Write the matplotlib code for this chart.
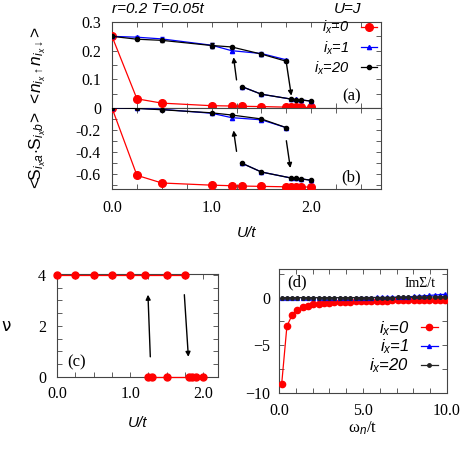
import matplotlib
matplotlib.use("Agg")
import matplotlib.pyplot as plt
from matplotlib.ticker import MultipleLocator, FormatStrFormatter

plt.rcParams['mathtext.fontset'] = 'custom'
plt.rcParams['mathtext.rm'] = 'Liberation Sans'
plt.rcParams['mathtext.it'] = 'Liberation Sans:italic'
plt.rcParams['font.family'] = ['Liberation Serif', 'DejaVu Serif']

# ---- data, panels (a)/(b) ----
u_red = [0, 0.25, 0.5, 1.0, 1.2, 1.3, 1.5, 1.75, 1.8, 1.85, 1.9, 2.0]
docc_red = [0.25, 0.032, 0.017, 0.008, 0.007, 0.006, 0.005, 0.003, 0.003, 0.003, 0.002, 0.002]
ss_red = [0, -0.615, -0.685, -0.705, -0.71, -0.713, -0.716, -0.72, -0.72, -0.721, -0.722, -0.722]

u_up = [0, 0.25, 0.5, 1.0, 1.2, 1.5, 1.75]
docc_blue_up = [0.25, 0.247, 0.241, 0.219, 0.2, 0.19, 0.168]
docc_black_up = [0.25, 0.24, 0.236, 0.218, 0.213, 0.188, 0.163]
docc_err = [0, 0.004, 0.005, 0.008, 0.005, 0.005, 0.004]
ss_blue_up = [0, -0.003, -0.012, -0.048, -0.088, -0.108, -0.18]
ss_black_up = [0, -0.004, -0.016, -0.044, -0.064, -0.1, -0.18]

u_low = [1.3, 1.5, 1.8, 1.85, 1.9, 2.0]
docc_blue_low = [0.075, 0.048, 0.031, 0.030, 0.028, 0.024]
docc_black_low = [0.075, 0.048, 0.031, 0.029, 0.028, 0.024]
ss_blue_low = [-0.503, -0.585, -0.64, -0.642, -0.648, -0.66]
ss_black_low = [-0.503, -0.585, -0.64, -0.642, -0.648, -0.66]

# ---- data, panel (c) ----
u_nu_up = [0, 0.25, 0.5, 0.75, 1.0, 1.2, 1.5, 1.75]
nu_up = [4, 4, 4, 4, 4, 4, 4, 4]
u_nu_low = [1.25, 1.3, 1.5, 1.8, 1.85, 1.9, 2.0]
nu_low = [0, 0, 0, 0, 0, 0, 0]

# ---- data, panel (d) ----
wn = [0.157, 0.471, 0.785, 1.100, 1.414, 1.728, 2.042, 2.356, 2.670, 2.985,
      3.299, 3.613, 3.927, 4.241, 4.555, 4.869, 5.184, 5.498, 5.812, 6.126,
      6.440, 6.754, 7.069, 7.383, 7.697, 8.011, 8.325, 8.639, 8.954, 9.268,
      9.582, 9.896]
sig_red = [-9.1, -3.0, -1.8, -1.3, -1.02, -0.84, -0.72, -0.64, -0.58, -0.53,
           -0.49, -0.46, -0.43, -0.41, -0.39, -0.37, -0.35, -0.34, -0.33, -0.32,
           -0.31, -0.30, -0.29, -0.28, -0.28, -0.27, -0.27, -0.26, -0.26, -0.25,
           -0.25, -0.24]
sig_blue = [0.0, 0.0, 0.0, 0.0, 0.0, 0.0, 0.0, 0.0, 0.0, 0.0,
            0.0, 0.0, 0.0, 0.0, 0.0, 0.01, 0.01, 0.01, 0.02, 0.02,
            0.03, 0.04, 0.05, 0.07, 0.09, 0.12, 0.15, 0.19, 0.23, 0.27,
            0.31, 0.35]
sig_black = [0.0, 0.0, 0.0, 0.0, 0.0, 0.0, 0.0, 0.0, 0.0, 0.0,
             0.0, 0.0, 0.0, 0.0, 0.0, 0.0, 0.0, 0.0, 0.0, 0.01,
             0.01, 0.01, 0.02, 0.02, 0.03, 0.03, 0.04, 0.05, 0.06, 0.07,
             0.08, 0.09]

RED = '#ff0000'
BLUE = '#0000ff'
SPINE = '#444444'

fig = plt.figure(figsize=(4.63, 4.5), dpi=100)
W, H = 463.0, 450.0


def box(l, r, t, b):
    return [l / W, 1 - b / H, (r - l) / W, (b - t) / H]


ax_a = fig.add_axes(box(112, 381, 22, 108))
ax_b = fig.add_axes(box(112, 381, 108, 189))
ax_c = fig.add_axes(box(57, 218, 274, 377))
ax_d = fig.add_axes(box(279, 447, 269, 393))


def style(ax, xpad, ypad):
    for s in ax.spines.values():
        s.set_color(SPINE)
        s.set_linewidth(0.8)
    ax.tick_params(which='both', direction='in', top=True, right=True,
                   length=3.5, width=0.6, color=SPINE, labelsize=11.5)
    ax.tick_params(axis='x', pad=xpad)
    ax.tick_params(axis='y', pad=ypad)


arrow = dict(arrowstyle='-|>', color='black', lw=1.0, mutation_scale=7,
             shrinkA=0, shrinkB=0)
leg_font = {'family': 'Liberation Sans', 'style': 'italic'}

# (a) double occupancy
ax = ax_a
ax.plot(u_red, docc_red, '-o', color=RED, lw=0.9, ms=5.5, label=r'$i_x$=0', zorder=3)
ax.errorbar(u_up, docc_blue_up, yerr=docc_err, fmt='-^', color=BLUE, lw=0.9, ms=3,
            capsize=1.5, elinewidth=0.7, zorder=4)
ax.plot(u_low, docc_blue_low, '-^', color=BLUE, lw=0.9, ms=3, label=r'$i_x$=1', zorder=4)
ax.errorbar(u_up, docc_black_up, yerr=docc_err, fmt='-o', color='black', lw=0.9, ms=3,
            capsize=1.5, elinewidth=0.7, zorder=5)
ax.plot(u_low, docc_black_low, '-o', color='black', lw=0.9, ms=3, label=r'$i_x$=20', zorder=5)
ax.annotate('', xy=(1.22, 0.177), xytext=(1.25, 0.098), arrowprops=arrow)
ax.annotate('', xy=(1.80, 0.043), xytext=(1.75, 0.158), arrowprops=arrow)
ax.set_xlim(0, 2.7)
ax.set_ylim(0, 0.3)
ax.xaxis.set_major_locator(MultipleLocator(1.0))
ax.xaxis.set_minor_locator(MultipleLocator(0.25))
ax.yaxis.set_minor_locator(MultipleLocator(0.05))
ax.set_yticks([0, 0.1, 0.2, 0.3], ['0', '0.1', '0.2', '0.3'])
style(ax, 8, 8)
ax.tick_params(labelbottom=False)
ax.text(0.89, 0.14, '(a)', transform=ax.transAxes, fontsize=12, ha='center', va='center')
ax.legend(loc='center right', bbox_to_anchor=(0.995, 0.70), frameon=False, markerfirst=False,
          handlelength=1.1, handletextpad=0.8, labelspacing=0.2, borderaxespad=0,
          borderpad=0.2, prop=dict(leg_font, size=10.5))

# (b) spin correlation
ax = ax_b
ax.plot(u_red, ss_red, '-o', color=RED, lw=0.9, ms=5.5, zorder=3)
ax.plot(u_up, ss_blue_up, '-^', color=BLUE, lw=0.9, ms=3, zorder=4)
ax.plot(u_low, ss_blue_low, '-^', color=BLUE, lw=0.9, ms=3, zorder=4)
ax.plot(u_up, ss_black_up, '-o', color='black', lw=0.9, ms=3, zorder=5)
ax.plot(u_low, ss_black_low, '-o', color='black', lw=0.9, ms=3, zorder=5)
ax.annotate('', xy=(1.22, -0.205), xytext=(1.25, -0.396), arrowprops=arrow)
ax.annotate('', xy=(1.79, -0.548), xytext=(1.75, -0.299), arrowprops=arrow)
ax.set_xlim(0, 2.7)
ax.set_ylim(-0.74, 0)
ax.xaxis.set_major_locator(MultipleLocator(1.0))
ax.xaxis.set_minor_locator(MultipleLocator(0.25))
ax.yaxis.set_minor_locator(MultipleLocator(0.1))
ax.set_yticks([-0.6, -0.4, -0.2], ['-0.6', '-0.4', '-0.2'])
ax.xaxis.set_major_formatter(FormatStrFormatter('%.1f'))
style(ax, 8, 8)
ax.text(0.89, 0.14, '(b)', transform=ax.transAxes, fontsize=12, ha='center', va='center')
ax.set_xlabel('U/t', family='Liberation Sans', style='italic', fontsize=11, labelpad=7)

fig.text(38 / W, 1 - 108 / H,
         r'<S$_{i_x a}$$\cdot$S$_{i_x b}$>  <$n_{i_x\uparrow}n_{i_x\downarrow}$>',
         rotation=90, ha='center', va='center', family='Liberation Sans', fontsize=12.5)
fig.text(112 / W, 1 - 9 / H, 'r=0.2 T=0.05t', family='Liberation Sans', style='italic',
         fontsize=11, ha='left', va='center')
fig.text(348 / W, 1 - 9 / H, 'U=J', family='Liberation Sans', style='italic',
         fontsize=11, ha='center', va='center')

# (c) nu
ax = ax_c
ax.plot(u_nu_up, nu_up, '-o', color=RED, lw=0.9, ms=5, clip_on=False, zorder=3)
ax.plot(u_nu_low, nu_low, '-o', color=RED, lw=0.9, ms=5, clip_on=False, zorder=3)
ax.annotate('', xy=(1.243, 3.22), xytext=(1.275, 0.79), arrowprops=arrow)
ax.annotate('', xy=(1.795, 0.79), xytext=(1.74, 3.22), arrowprops=arrow)
ax.set_xlim(0, 2.2)
ax.set_ylim(0, 4.03)
ax.xaxis.set_major_locator(MultipleLocator(1.0))
ax.xaxis.set_minor_locator(MultipleLocator(0.25))
ax.set_yticks([0, 2, 4])
ax.yaxis.set_minor_locator(MultipleLocator(0.5))
ax.xaxis.set_major_formatter(FormatStrFormatter('%.1f'))
style(ax, 6.5, 8)
ax.text(0.12, 0.14, '(c)', transform=ax.transAxes, fontsize=12, ha='center', va='center')
ax.set_xlabel('U/t', family='Liberation Sans', style='italic', fontsize=11, labelpad=10)
fig.text(6 / W, 1 - 326 / H, 'ν', family='DejaVu Sans', fontsize=12, ha='center', va='center')

# (d) self-energy
ax = ax_d
ax.plot(wn, sig_red, '-o', color=RED, lw=0.9, ms=4.5, label=r'$i_x$=0', zorder=3)
ax.plot(wn, sig_blue, '-^', color=BLUE, lw=0.9, ms=2.8, label=r'$i_x$=1', zorder=4)
ax.plot(wn, sig_black, '-o', color='#222222', lw=0.9, ms=2.5, label=r'$i_x$=20', zorder=5)
ax.set_xlim(0, 10)
ax.set_ylim(-10, 3)
ax.xaxis.set_major_locator(MultipleLocator(5))
ax.xaxis.set_minor_locator(MultipleLocator(1))
ax.set_yticks([-10, -5, 0])
ax.yaxis.set_minor_locator(MultipleLocator(2.5))
ax.xaxis.set_major_formatter(FormatStrFormatter('%.1f'))
style(ax, 7.5, 6)
ax.text(0.11, 0.89, '(d)', transform=ax.transAxes, fontsize=12, ha='center', va='center')
ax.text(0.84, 0.885, 'ImΣ/t', transform=ax.transAxes, fontsize=10, ha='center', va='center')
ax.set_xlabel(r'ω$_n$/t', fontsize=12, labelpad=0)
ax.legend(loc='center right', bbox_to_anchor=(0.975, 0.37), frameon=False, markerfirst=False,
          handlelength=1.0, handletextpad=0.7, labelspacing=0.0, borderaxespad=0,
          borderpad=0.3, prop=dict(leg_font, size=12))

fig.savefig('out.png', dpi=100)
